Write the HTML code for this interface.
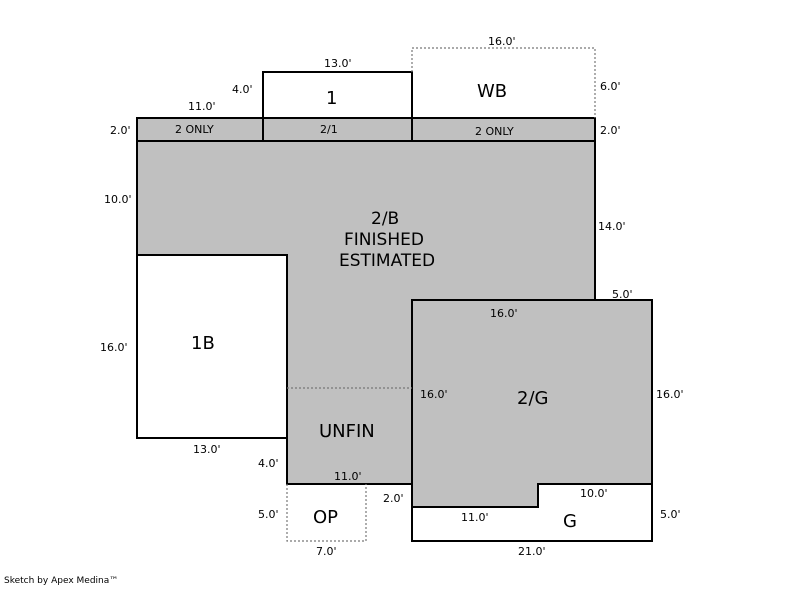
<!DOCTYPE html>
<html><head><style>
html,body{margin:0;padding:0;background:#fff;}
svg text{font-family:"DejaVu Sans","Liberation Sans",sans-serif;fill:#000;}
.s{font-size:11px}
.b{font-size:18px}
</style></head><body>
<svg width="800" height="587" viewBox="0 0 800 587" xmlns="http://www.w3.org/2000/svg">
<rect width="800" height="587" fill="#fff"/>
<polygon points="137,118 595,118 595,300 652,300 652,484 538,484 538,507 412,507 412,484 287,484 287,255 137,255" fill="#c0c0c0"/>
<g fill="none" stroke="#000" stroke-width="2">
<polygon points="137,118 595,118 595,300 652,300 652,484 538,484 538,507 412,507 412,484 287,484 287,438 137,438"/>
<line x1="137" y1="141" x2="595" y2="141"/>
<line x1="263" y1="118" x2="263" y2="141"/>
<line x1="412" y1="118" x2="412" y2="141"/>
<polyline points="263,118 263,72 412,72 412,118"/>
<polyline points="137,255 287,255 287,438"/>
<polyline points="412,484 412,300 595,300"/>
<polyline points="412,507 412,541 652,541 652,484"/>
</g>
<g fill="none" stroke="#777" stroke-width="1.2" stroke-dasharray="2,2">
<polyline points="412,72 412,48 595,48 595,118"/>
<line x1="287" y1="388" x2="412" y2="388"/>
<polyline points="287,484 287,541 366,541 366,484"/>
</g>
<g class="s">
<text x="188" y="110">11.0'</text>
<text x="232" y="93">4.0'</text>
<text x="324" y="67">13.0'</text>
<text x="488" y="45">16.0'</text>
<text x="600" y="90">6.0'</text>
<text x="110" y="134">2.0'</text>
<text x="600" y="134">2.0'</text>
<text x="175" y="133">2 ONLY</text>
<text x="320" y="133">2/1</text>
<text x="475" y="135">2 ONLY</text>
<text x="104" y="203">10.0'</text>
<text x="598" y="230">14.0'</text>
<text x="612" y="298">5.0'</text>
<text x="490" y="317">16.0'</text>
<text x="100" y="351">16.0'</text>
<text x="420" y="398">16.0'</text>
<text x="656" y="398">16.0'</text>
<text x="193" y="453">13.0'</text>
<text x="258" y="467">4.0'</text>
<text x="334" y="480">11.0'</text>
<text x="383" y="502">2.0'</text>
<text x="580" y="497">10.0'</text>
<text x="461" y="521">11.0'</text>
<text x="258" y="518">5.0'</text>
<text x="660" y="518">5.0'</text>
<text x="316" y="555">7.0'</text>
<text x="518" y="555">21.0'</text>
<text x="4" y="583" style="font-size:9px">Sketch by Apex Medina™</text>
</g>
<g class="b">
<text x="326" y="104">1</text>
<text x="477" y="97">WB</text>
<text x="371" y="224" style="font-size:17px">2/B</text>
<text x="344" y="245" style="font-size:17px">FINISHED</text>
<text x="339" y="266" style="font-size:17px">ESTIMATED</text>
<text x="191" y="349">1B</text>
<text x="517" y="404">2/G</text>
<text x="319" y="437">UNFIN</text>
<text x="313" y="523">OP</text>
<text x="563" y="527">G</text>
</g>
</svg>
</body></html>
